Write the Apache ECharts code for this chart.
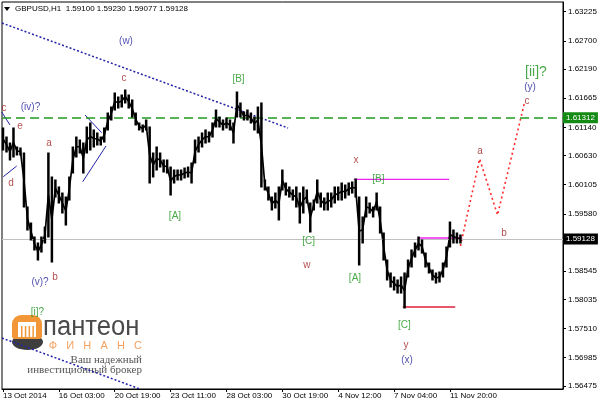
<!DOCTYPE html>
<html><head><meta charset="utf-8">
<script src="https://cdn.jsdelivr.net/npm/echarts@6/dist/echarts.min.js"></script>
<style>html,body{margin:0;padding:0;background:#fff}#c{width:600px;height:405px}</style>
</head><body><div id="c"></div>
<script>
// ---- data (H1 GBPUSD, one sample every 4 hourly bars) ----
const sampleBar = [0,4,8,12,16,20,24,28,32,36,40,44,48,52,56,60,64,68,72,76,80,84,88,92,96,100,104,108,112,116,120,124,128,132,136,140,144,148,152,156,160,164,168,172,176,180,184,188,192,196,200,204,208,212,216,220,224,228,232,236,240,244,248,252,256,260,264,268,272,276,280,284,288,292,296,300,304,308,312,316,320,324,328,332,336,340,344,348,352,356,360,364,368,372,376,380,384,388,392,396,400,404,408,412,416,420,424,428,432,436,440,444,448,452,456,460,464,468,472,476,480,484,488,492,496,500,504,508,512,516,520,524];
const highs = [
1.61128,1.60965,1.60857,1.61128,1.60785,1.60767,1.60677,1.59703,1.59414,1.59162,
1.59054,1.59162,1.59342,1.60677,1.60244,1.60190,1.60064,1.59955,1.59883,1.60244,
1.60785,1.60965,1.60911,1.60857,1.61146,1.61218,1.61092,1.61038,1.60965,1.61128,
1.61398,1.61506,1.61759,1.61687,1.61723,1.61813,1.61723,1.61633,1.61398,1.61218,
1.61182,1.61272,1.61146,1.60677,1.60785,1.60677,1.60551,1.60551,1.60424,1.60370,
1.60370,1.60370,1.60406,1.60424,1.60497,1.60911,1.60965,1.61038,1.61092,1.61056,
1.61218,1.61452,1.61326,1.61272,1.61308,1.61272,1.61218,1.61777,1.61579,1.61416,
1.61452,1.61398,1.61326,1.61506,1.61579,1.60190,1.60064,1.59883,1.59955,1.60064,
1.60370,1.60136,1.60064,1.60010,1.60064,1.59955,1.60064,1.60010,1.59775,1.59829,
1.60190,1.59955,1.59865,1.59955,1.59955,1.60064,1.60064,1.60136,1.60100,1.60136,
1.60154,1.60208,1.59883,1.59523,1.59883,1.59775,1.59703,1.59955,1.59703,1.59234,
1.58747,1.58513,1.58441,1.58387,1.58441,1.58513,1.58747,1.58928,1.59054,1.59162,
1.59108,1.58873,1.58693,1.58567,1.58513,1.58531,1.58693,1.58982,1.59432,1.59288,
1.59234,1.59198];
const lows = [
1.60731,1.60695,1.60551,1.60605,1.60641,1.60641,1.59703,1.59288,1.59108,1.58928,
1.58747,1.58891,1.59054,1.59162,1.58711,1.59883,1.59775,1.59595,1.59378,1.59829,
1.60316,1.60605,1.60677,1.60316,1.60677,1.60731,1.60785,1.60821,1.60821,1.60875,
1.61092,1.61272,1.61452,1.61488,1.61506,1.61579,1.61488,1.61326,1.61182,1.61092,
1.61056,1.61092,1.60136,1.60244,1.60370,1.60424,1.60334,1.60316,1.59919,1.60136,
1.60190,1.60190,1.60226,1.60244,1.60136,1.60497,1.60695,1.60785,1.60857,1.60875,
1.60965,1.61146,1.61146,1.61092,1.61128,1.61092,1.60857,1.61326,1.61326,1.61272,
1.61272,1.61218,1.61092,1.61038,1.60064,1.60010,1.59829,1.59649,1.59685,1.59469,
1.60010,1.59919,1.59883,1.59829,1.59703,1.59414,1.59595,1.59775,1.59252,1.59649,
1.59775,1.59703,1.59649,1.59649,1.59703,1.59775,1.59829,1.59829,1.59865,1.59919,
1.59955,1.59883,1.58657,1.59054,1.59523,1.59595,1.59523,1.59649,1.59234,1.58747,
1.58387,1.58260,1.58206,1.58152,1.58152,1.57882,1.58441,1.58621,1.58801,1.58928,
1.58873,1.58621,1.58513,1.58387,1.58332,1.58350,1.58441,1.58621,1.58982,1.59054,
1.59054,1.59054];

const titleText = 'GBPUSD,H1  1.59100 1.59230 1.59077 1.59128';
const lastPrice = 1.59128;
const levelPrice = 1.61312;

const xTickBars = [0,64,128,192,256,320,384,448,512];
const xTickLabels = ['13 Oct 2014','16 Oct 03:00','20 Oct 19:00','23 Oct 11:00','28 Oct 03:00','30 Oct 19:00','4 Nov 12:00','7 Nov 04:00','11 Nov 20:00'];
const yTickValues = [1.63225,1.62700,1.62190,1.61665,1.61140,1.60630,1.60105,1.59580,1.59070,1.58545,1.58035,1.57510,1.56985,1.56475];

// trend / channel lines  [bar, price]
const upperChannel = [[-1.2,1.63021],[326.5,1.61128]];
const lowerChannel = [[-1.2,1.57340],[157,1.56421]];
const waveLine1 = [[-1.5,1.61416],[8,1.61182]];
const waveLine2 = [[0.3,1.60249],[15.7,1.60442]];
const triLineTop = [[94,1.61362],[113,1.61043]];
const triLineBot = [[91.3,1.60159],[118,1.60803]];
const levelB = [[402,1.60203],[511,1.60203]];
const levelTop = [[476,1.59144],[526,1.59144]];
const levelLow = [[458,1.57900],[518,1.57900]];
const projection = [[524,1.59000],[546,1.60570],[566.5,1.59559],[597,1.61560]];

// wave labels
const redText = ['c','e','d','a','b','c','x','w','y','a','b','c'];
const redBar = [1.1,19.5,9.2,52.7,59.6,138.6,404.4,348.2,461.6,546.4,573.9,600.2];
const redPrice = [1.61488,1.61164,1.60136,1.60857,1.58441,1.62029,1.60551,1.58657,1.57214,1.60713,1.59234,1.61615];
const blueText = ['(iv)?','(w)','(v)?','(x)','(y)'];
const blueBar = [31.5,140.9,42.4,462.8,603.7];
const bluePrice = [1.61506,1.62689,1.58350,1.56944,1.61858];
const greenText = ['[i]?','[B]','[A]','[B]','[C]','[A]','[C]'];
const greenBar = [39.5,269.8,197,430.1,350,403.2,459.9];
const greenPrice = [1.57809,1.62011,1.59532,1.60208,1.59090,1.58414,1.57566];
const bigGreenText = ['[ii]?'];
const bigGreenBar = [610.5];
const bigGreenPrice = [1.62138];

// ---- chart ----
const FONT = '"Liberation Sans", Arial, sans-serif';
const barRows = sampleBar.map((b, i) => [b, lows[i], highs[i]]);
const midRows = sampleBar.map((b, i) => [b, (lows[i] + highs[i]) / 2]);

function seg(data, color, type, width) {
  return {type:'line', data, symbol:'none', silent:true, clip:true, z:3,
    lineStyle:{color, type, width}, animation:false};
}
function labels(text, bars, prices, color, size) {
  return {type:'scatter', symbolSize:0, silent:true, z:6, animation:false,
    data: text.map((t, i) => ({name:t, value:[bars[i], prices[i]]})),
    label:{show:true, position:'inside', formatter:p => p.name, color, fontSize:size, fontFamily:FONT}};
}

const chart = echarts.init(document.getElementById('c'), null, {renderer:'canvas'});
chart.setOption({
  animation:false,
  backgroundColor:'#fff',
  grid:{left:2, right:37, top:2, bottom:16, show:true, borderColor:'#000', borderWidth:1, backgroundColor:'#fff'},
  xAxis:{type:'value', min:-1.15, max:641.5,
    axisLine:{show:true, onZero:false, lineStyle:{color:'#000', width:1}},
    axisTick:{show:true, customValues:xTickBars, length:3, lineStyle:{color:'#000'}},
    axisLabel:{customValues:xTickBars, formatter:v => xTickLabels[xTickBars.indexOf(Math.round(v))] || '',
      align:'left', fontSize:8, fontFamily:FONT, color:'#000', margin:3},
    splitLine:{show:false}},
  yAxis:{type:'value', position:'right', min:1.56421, max:1.63400, scale:true,
    axisLine:{show:true, onZero:false, lineStyle:{color:'#000', width:1}},
    axisTick:{show:true, customValues:yTickValues, length:3, lineStyle:{color:'#000'}},
    axisLabel:{customValues:yTickValues, formatter:v => v.toFixed(5), fontSize:8, fontFamily:FONT, color:'#000', margin:5},
    splitLine:{show:false}},
  series:[
    seg(upperChannel, '#2424a8', [2,2], 1.5),
    seg(lowerChannel, '#2424a8', [2,2], 1.5),
    seg(waveLine1, '#2424a8', 'solid', 1),
    seg(waveLine2, '#2424a8', 'solid', 1),
    seg(triLineTop, '#2424a8', 'solid', 1),
    seg(triLineBot, '#2424a8', 'solid', 1),
    seg(levelB, '#ee22ee', 'solid', 1.3),
    seg(levelTop, '#ee22ee', 'solid', 1.3),
    seg(levelLow, '#e0203c', 'solid', 1.3),
    seg(projection, '#ff2a2a', [2,3], 1.6),
    {type:'line', data:midRows, symbol:'none', silent:true, z:4, animation:false,
      lineStyle:{color:'#000', width:1.7},
      markLine:{silent:true, symbol:['none','none'], animation:false, precision:5,
        data:[
          {yAxis:lastPrice, lineStyle:{color:'#c0c0c0', type:'solid', width:1},
            label:{show:true, position:'end', distance:0, formatter:lastPrice.toFixed(5), color:'#fff', backgroundColor:'#000',
              padding:[2,3,1,3], fontSize:8, fontFamily:FONT}},
          {yAxis:levelPrice, lineStyle:{color:'#1f9a1f', type:[9,5], width:1.6},
            label:{show:true, position:'end', distance:0, formatter:levelPrice.toFixed(5), color:'#fff', backgroundColor:'#138a13',
              padding:[2,3,1,3], fontSize:8, fontFamily:FONT}}
        ]}},
    {type:'custom', data:barRows, z:5, silent:true, animation:false,
      encode:{x:0, y:[1,2]},
      renderItem:(params, api) => {
        const b = api.value(0);
        const t = api.coord([b, api.value(2)]);
        const d = api.coord([b, api.value(1)]);
        return {type:'line', shape:{x1:t[0], y1:t[1]-0.5, x2:d[0], y2:d[1]+0.5}, style:{stroke:'#000', lineWidth:2.5}};
      }},
    labels(redText, redBar, redPrice, '#9e1c1c', 10),
    labels(blueText, blueBar, bluePrice, '#1e1e9a', 10),
    labels(greenText, greenBar, greenPrice, '#1c941c', 10),
    labels(bigGreenText, bigGreenBar, bigGreenPrice, '#1c941c', 14)
  ],
  graphic:[
    {type:'polygon', silent:true, shape:{points:[[4,7],[10,7],[7,11]]}, style:{fill:'#000'}, z:10},
    {type:'text', silent:true, x:15, y:9, z:10, style:{text:titleText, font:'8px ' + FONT, fill:'#000', verticalAlign:'middle'}},
    {type:'group', silent:true, z:10, children:[
      {type:'ellipse', shape:{cx:27.5, cy:342, rx:15.5, ry:8}, style:{fill:'#3e3e3e'}},
      {type:'rect', shape:{x:12, y:315, width:30, height:24, r:[9,9,3,3]}, style:{fill:'#f29637'}},
      {type:'rect', shape:{x:18, y:322, width:18, height:15}, style:{fill:'#fff'}},
      {type:'rect', shape:{x:21, y:326, width:1.5, height:11}, style:{fill:'#f29637'}},
      {type:'rect', shape:{x:24.8, y:326, width:1.5, height:11}, style:{fill:'#f29637'}},
      {type:'rect', shape:{x:28.6, y:326, width:1.5, height:11}, style:{fill:'#f29637'}},
      {type:'rect', shape:{x:32.4, y:326, width:1.5, height:11}, style:{fill:'#f29637'}},
      {type:'text', x:43, y:328, scaleX:0.95, style:{text:'пантеон', font:'27px ' + FONT, fill:'#4a4a4a', verticalAlign:'middle'}},
      {type:'text', x:142, y:346, style:{text:'Ф   И   Н   А   Н   С', font:'11px ' + FONT, fill:'#f4a261', align:'right', verticalAlign:'middle'}},
      {type:'text', x:142, y:360, style:{text:'Ваш надежный', font:'11px "Liberation Serif", serif', fill:'#555', align:'right', verticalAlign:'middle'}},
      {type:'text', x:142, y:370.5, style:{text:'инвестиционный брокер', font:'11px "Liberation Serif", serif', fill:'#555', align:'right', verticalAlign:'middle'}}
    ]}
  ]
});
</script>
</body></html>
